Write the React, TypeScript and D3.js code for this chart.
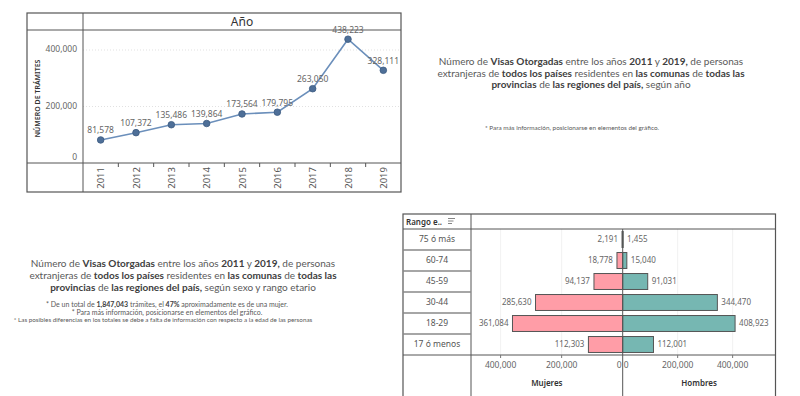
import React from "react";
import * as d3 from "d3";

const years = ["2011", "2012", "2013", "2014", "2015", "2016", "2017", "2018", "2019"];
const tramites = [81578, 107372, 135486, 139864, 173564, 179795, 263050, 438223, 328111];
const yTicks = [0, 200000, 400000];

const ageGroups = ["75 ó más", "60-74", "45-59", "30-44", "18-29", "17 ó menos"];
const mujeres = [2191, 18778, 94137, 285630, 361084, 112303];
const hombres = [1455, 15040, 91031, 344470, 408923, 112001];
const pyrTicks = [0, 200000, 400000];

const fmt = d3.format(",");
const TXT = "Lato, 'Open Sans', sans-serif";
const TAB = "'Noto Sans', Lato, sans-serif";

type Seg = { t: string; b?: boolean };
const block1: Seg[][] = [
  [{ t: "Número de " }, { t: "Visas Otorgadas", b: true }, { t: " entre los años " }, { t: "2011", b: true }, { t: " y " }, { t: "2019,", b: true }, { t: " de personas" }],
  [{ t: "extranjeras de " }, { t: "todos los países", b: true }, { t: " residentes en " }, { t: "las comunas", b: true }, { t: " de " }, { t: "todas las", b: true }],
  [{ t: "provincias", b: true }, { t: " de " }, { t: "las regiones del país,", b: true }, { t: " según año" }],
];
const block2: Seg[][] = [
  [{ t: "Número de " }, { t: "Visas Otorgadas", b: true }, { t: " entre los años " }, { t: "2011", b: true }, { t: " y " }, { t: "2019,", b: true }, { t: " de personas" }],
  [{ t: "extranjeras de " }, { t: "todos los países", b: true }, { t: " residentes en " }, { t: "las comunas", b: true }, { t: " de " }, { t: "todas las", b: true }],
  [{ t: "provincias", b: true }, { t: " de " }, { t: "las regiones del país,", b: true }, { t: " según sexo y rango etario" }],
];
const notes2: Seg[][] = [
  [{ t: "* De un total de " }, { t: "1,847,043", b: true }, { t: " trámites, el " }, { t: "47%", b: true }, { t: " aproximadamente es de una mujer." }],
  [{ t: "* Para más información, posicionarse en elementos del gráfico." }],
];

function Lines({ lines, x, y0, dy, size }: { lines: Seg[][]; x: number; y0: number; dy: number; size: number }) {
  return (
    <g>
      {lines.map((ln, i) => (
        <text key={i} x={x} y={y0 + i * dy} textAnchor="middle" fontFamily={TXT} fontSize={size} fill="#595959">
          {ln.map((s, j) => (
            <tspan key={j} fontWeight={s.b ? 700 : 400} fill={s.b ? "#404040" : "#595959"}>{s.t}</tspan>
          ))}
        </text>
      ))}
    </g>
  );
}

function LineChart() {
  const L = 27, R = 401, T = 13, B = 192, H = 30, C = 83, A = 163;
  const x = d3.scaleBand<string>().domain(years).range([C, R]).padding(0);
  const y = d3.scaleLinear().domain([0, 470800]).range([A, H]);
  const pts = years.map((yr, i) => ({ yr, v: tramites[i], px: (x(yr) as number) + x.bandwidth() / 2, py: y(tramites[i]) }));
  const line = d3.line<any>().x((d) => d.px).y((d) => d.py);
  return (
    <g>
      {yTicks.filter((t) => t > 0).map((t) => (
        <line key={t} x1={C} x2={R} y1={y(t)} y2={y(t)} stroke="#d9d9d9" strokeWidth={0.8} strokeDasharray="1,2" />
      ))}
      <rect x={L} y={T} width={R - L} height={B - T} fill="none" stroke="#555" strokeWidth={1.2} />
      <line x1={L} x2={R} y1={H} y2={H} stroke="#555" strokeWidth={1} />
      <line x1={C} x2={C} y1={T} y2={B} stroke="#555" strokeWidth={1} />
      <line x1={L} x2={R} y1={A} y2={A} stroke="#555" strokeWidth={1} />
      <text x={(C + R) / 2} y={26} textAnchor="middle" fontFamily={TAB} fontSize={12} fill="#333">Año</text>
      {yTicks.map((t) => (
        <text key={t} x={C - 6} y={y(t) - (t === 0 ? 5 : 0)} dominantBaseline="middle" textAnchor="end" fontFamily={TAB} fontSize={8.5} fill="#666">{fmt(t)}</text>
      ))}
      <text transform={`translate(40,${(H + A) / 2 + 2}) rotate(-90)`} textAnchor="middle" fontFamily={TAB} fontSize={7} fontWeight={600} fill="#333">NÚMERO DE TRÁMITES</text>
      {years.slice(1).map((yr) => (
        <line key={yr} x1={x(yr) as number} x2={x(yr) as number} y1={A} y2={A + 4} stroke="#555" strokeWidth={1} />
      ))}
      {pts.map((p) => (
        <text key={p.yr} transform={`translate(${p.px + 3.5},${A + 4}) rotate(-90)`} textAnchor="end" fontFamily={TAB} fontSize={9.5} fill="#555">{p.yr}</text>
      ))}
      <path d={line(pts) as string} fill="none" stroke="#6b8fbb" strokeWidth={1.6} />
      {pts.map((p) => (
        <circle key={p.yr} cx={p.px} cy={p.py} r={3.3} fill="#4e6f98" stroke="#3c5a80" strokeWidth={0.8} />
      ))}
      {pts.map((p) => (
        <text key={p.yr} x={p.px} y={p.py - 6.5} textAnchor="middle" fontFamily={TAB} fontSize={8.5} fill="#666">{fmt(p.v)}</text>
      ))}
    </g>
  );
}

function Pyramid() {
  const L = 403, R = 775.5, T = 214, H = 229, C = 471, A = 355, Z = 622.7;
  const yb = d3.scaleBand<string>().domain(ageGroups).range([H, A]).paddingInner(0.24).paddingOuter(0.12);
  const rows = d3.scaleBand<string>().domain(ageGroups).range([H, A]);
  const xl = d3.scaleLinear().domain([0, 497000]).range([Z, C]);
  const xr = d3.scaleLinear().domain([0, 556000]).range([Z, R]);
  return (
    <g>
      {pyrTicks.filter((t) => t > 0).map((t) => (
        <g key={t}>
          <line x1={xl(t)} x2={xl(t)} y1={H} y2={A} stroke="#eeeeee" strokeWidth={0.8} />
          <line x1={xr(t)} x2={xr(t)} y1={H} y2={A} stroke="#eeeeee" strokeWidth={0.8} />
        </g>
      ))}
      <rect x={L} y={T} width={R - L} height={200} fill="none" stroke="#555" strokeWidth={1.2} />
      <line x1={L} x2={R} y1={H} y2={H} stroke="#555" strokeWidth={1} />
      <line x1={C} x2={C} y1={T} y2={400} stroke="#555" strokeWidth={1} />
      {ageGroups.slice(1).map((g) => (
        <line key={g} x1={L} x2={C} y1={rows(g) as number} y2={rows(g) as number} stroke="#888" strokeWidth={1.4} />
      ))}
      <line x1={L} x2={R} y1={A} y2={A} stroke="#555" strokeWidth={1} />
      <text x={406} y={224.5} fontFamily={TAB} fontSize={8} fontWeight={600} fill="#333">Rango e..</text>
      <g stroke="#666" strokeWidth={0.8}>
        <line x1={448} x2={455} y1={218.5} y2={218.5} />
        <line x1={448} x2={453.5} y1={221} y2={221} />
        <line x1={448} x2={452} y1={223.5} y2={223.5} />
      </g>
      {ageGroups.map((g) => (
        <text key={g} x={(L + C) / 2} y={(rows(g) as number) + rows.bandwidth() / 2} dominantBaseline="middle" textAnchor="middle" fontFamily={TAB} fontSize={8.5} fill="#555">{g}</text>
      ))}
      {ageGroups.map((g, i) => {
        const yy = yb(g) as number;
        const h = yb.bandwidth();
        return (
          <g key={g}>
            <rect x={xl(mujeres[i])} y={yy} width={Z - xl(mujeres[i])} height={h} fill="#ff9da7" stroke="#555" strokeWidth={1} />
            <rect x={Z} y={yy} width={xr(hombres[i]) - Z} height={h} fill="#76b7b2" stroke="#555" strokeWidth={1} />
            <text x={xl(mujeres[i]) - 4} y={yy + h / 2} dominantBaseline="middle" textAnchor="end" fontFamily={TAB} fontSize={8} fill="#666">{fmt(mujeres[i])}</text>
            <text x={xr(hombres[i]) + 4} y={yy + h / 2} dominantBaseline="middle" textAnchor="start" fontFamily={TAB} fontSize={8} fill="#666">{fmt(hombres[i])}</text>
          </g>
        );
      })}
      <line x1={Z} x2={Z} y1={H} y2={400} stroke="#555" strokeWidth={1} />
      {pyrTicks.map((t) => (
        <g key={t}>
          {t > 0 && <line x1={xl(t)} x2={xl(t)} y1={A} y2={A + 3} stroke="#777" />}
          {t > 0 && <line x1={xr(t)} x2={xr(t)} y1={A} y2={A + 3} stroke="#777" />}
          <text x={t === 0 ? Z - 1 : xl(t)} y={366} dominantBaseline="middle" textAnchor={t === 0 ? "end" : "middle"} fontFamily={TAB} fontSize={8.5} fill="#666">{fmt(t)}</text>
          <text x={t === 0 ? Z + 1 : xr(t)} y={366} dominantBaseline="middle" textAnchor={t === 0 ? "start" : "middle"} fontFamily={TAB} fontSize={8.5} fill="#666">{fmt(t)}</text>
        </g>
      ))}
      <text x={(C + Z) / 2} y={384} dominantBaseline="middle" textAnchor="middle" fontFamily={TAB} fontSize={8} fontWeight={600} fill="#333">Mujeres</text>
      <text x={(Z + R) / 2} y={384} dominantBaseline="middle" textAnchor="middle" fontFamily={TAB} fontSize={8} fontWeight={600} fill="#333">Hombres</text>
    </g>
  );
}

export default function App() {
  return (
    <svg width={800} height={396} style={{ position: "absolute", left: 0, top: 0, background: "#fff" }}>
      <rect width={800} height={396} fill="#fff" />
      <LineChart />
      <Lines lines={block1} x={591} y0={65} dy={11.5} size={10} />
      <text x={572} y={130} textAnchor="middle" fontFamily={TXT} fontSize={6.4} fill="#595959">* Para más información, posicionarse en elementos del gráfico.</text>
      <Lines lines={block2} x={183} y0={266.5} dy={12} size={10} />
      <Lines lines={notes2} x={167} y0={307} dy={8} size={7} />
      <text x={163} y={322} textAnchor="middle" fontFamily={TXT} fontSize={6.3} fill="#595959">* Las posibles diferencias en los totales se debe a falta de información con respecto a la edad de las personas</text>
      <Pyramid />
    </svg>
  );
}
